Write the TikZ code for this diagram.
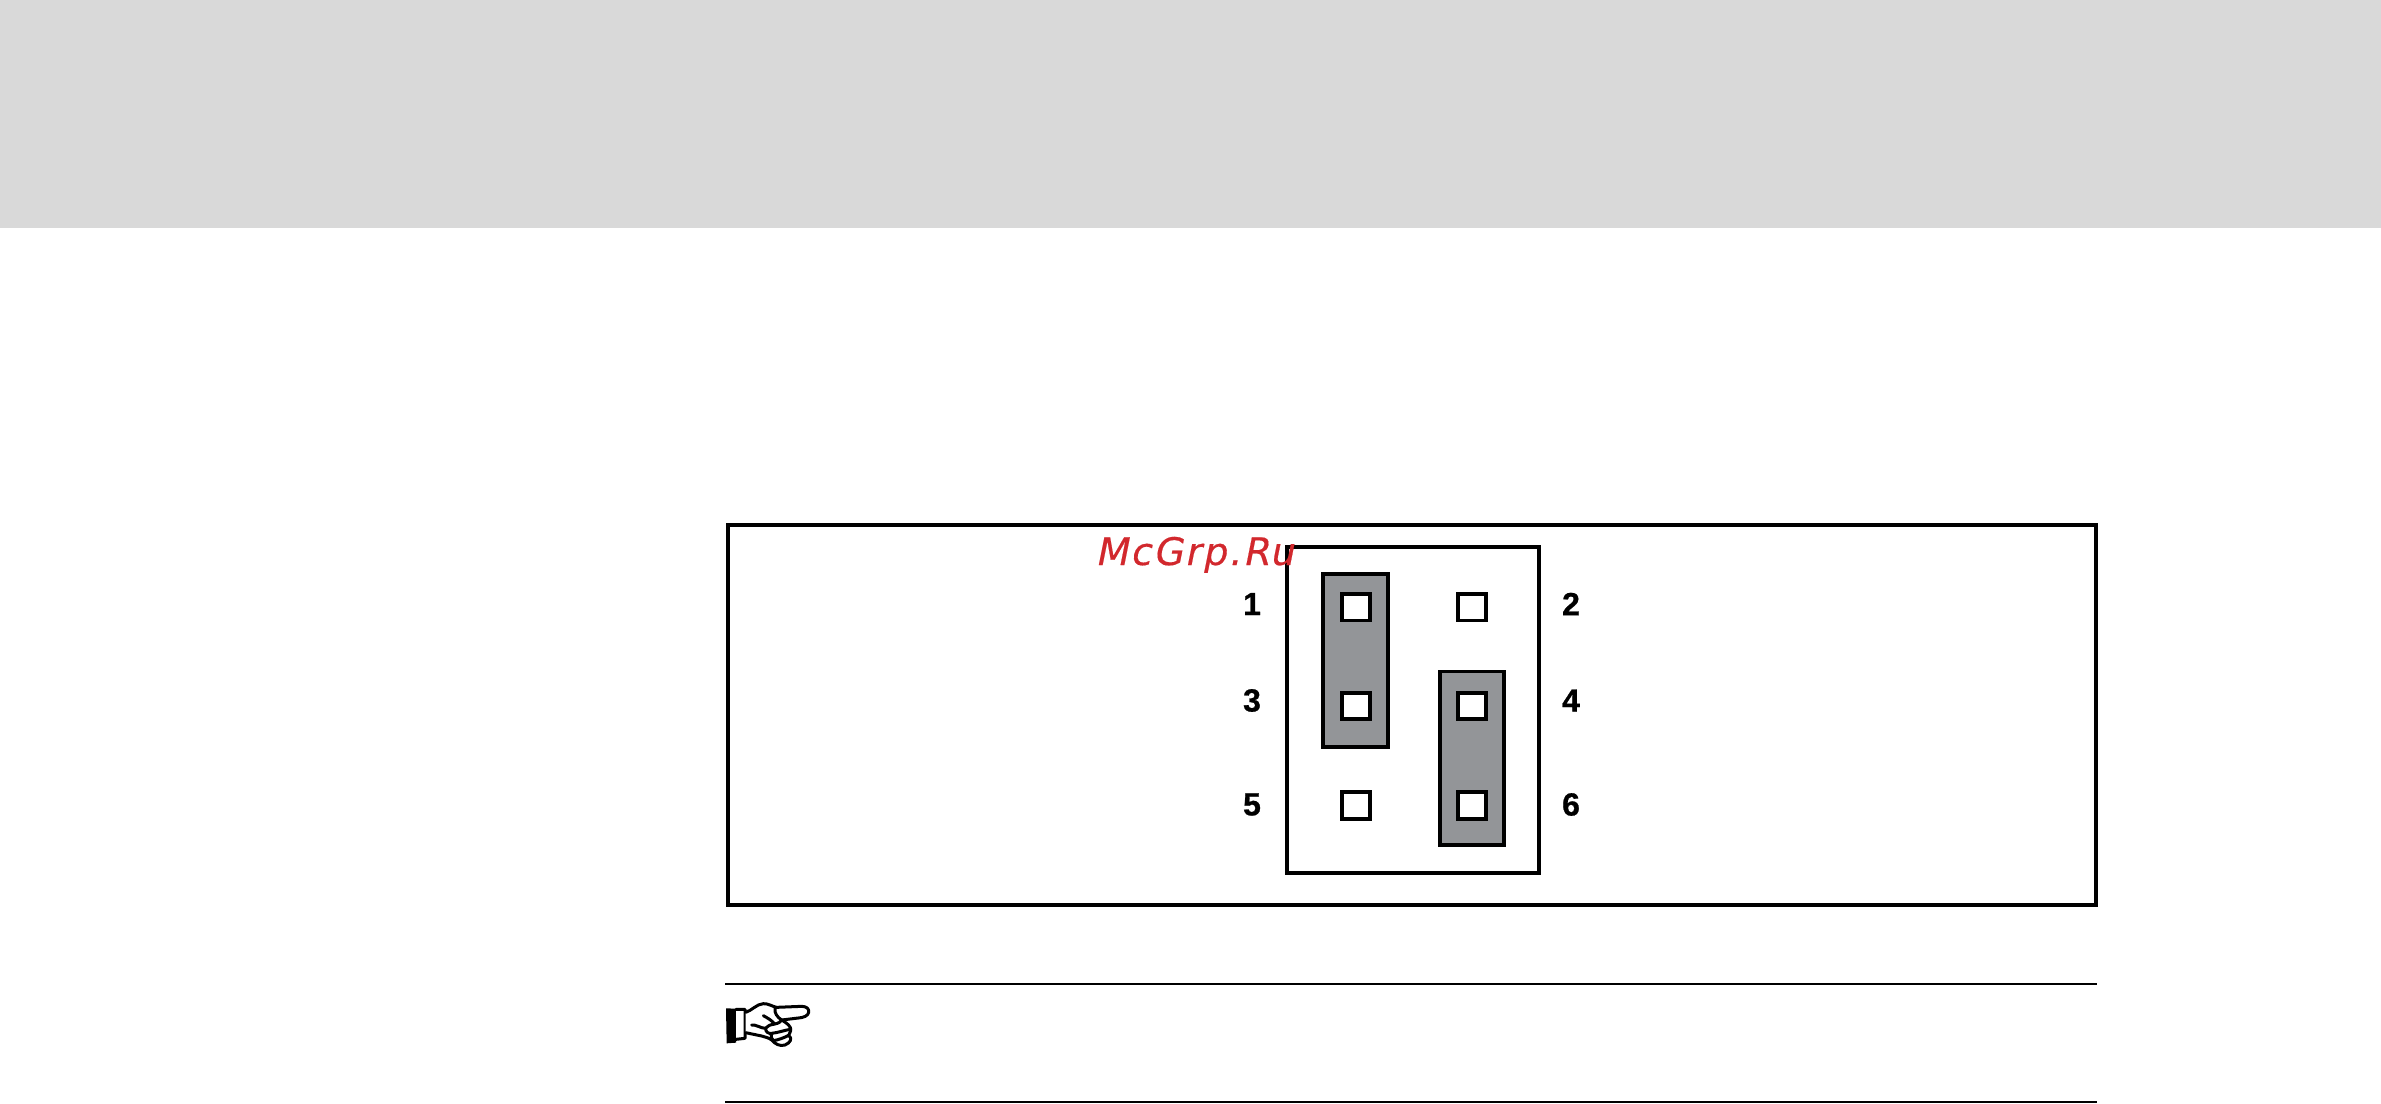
\documentclass[tikz,border=0pt]{standalone}
\usepackage{fontspec}
\setmainfont{Liberation Sans}
\newfontfamily\wmfont{DejaVu Sans}
\definecolor{band}{HTML}{D9D9D9}
\definecolor{jumper}{HTML}{939598}
\definecolor{wmred}{HTML}{D2282D}
\tikzset{
  frameline/.style={draw=black,line width=3.8pt,fill=white},
  innerbox/.style={draw=black,line width=3.6pt,fill=white},
  jumperbox/.style={draw=black,line width=3.9pt,fill=jumper},
  pinbox/.style={draw=black,line width=3.8pt,fill=white,minimum width=28pt,minimum height=26.3pt,inner sep=0pt,outer sep=0pt},
  pinlabel/.style={font=\fontsize{32}{32}\selectfont\bfseries\addfontfeature{FakeBold=0.8},inner sep=0pt,text=black},
  rule/.style={draw=black,line width=2pt},
  handline/.style={draw=black,line width=3pt,line cap=round,line join=round}
}
\begin{document}
\begin{tikzpicture}[x=1pt,y=-1pt]
\useasboundingbox (0,0) rectangle (2381,1103);
\fill[band] (0,0) rectangle (2381,227.5);
\draw[frameline] (728,525) rectangle (2096,905);
\draw[innerbox] (1286.8,547) rectangle (1539,873);
\draw[jumperbox] (1323.4,574) rectangle (1387.7,747);
\draw[jumperbox] (1440,671.5) rectangle (1503.8,845);
\node[pinbox] (p1) at (1355.7,607.3) {};
\node[pinbox] (p2) at (1471.8,607.3) {};
\node[pinbox] (p3) at (1355.7,706) {};
\node[pinbox] (p4) at (1471.8,706) {};
\node[pinbox] (p5) at (1355.7,805.5) {};
\node[pinbox] (p6) at (1471.8,805.5) {};
\node[pinlabel] (l1) at (1252,604) {1};
\node[pinlabel] (l2) at (1571,604) {2};
\node[pinlabel] (l3) at (1252,700.5) {3};
\node[pinlabel] (l4) at (1571,700.5) {4};
\node[pinlabel] (l5) at (1252,804.5) {5};
\node[pinlabel] (l6) at (1571,804.5) {6};
\node[anchor=base west,inner sep=0pt,text=wmred,font=\wmfont\fontsize{38}{38}\selectfont\addfontfeature{FakeSlant=0.2,LetterSpace=5.5,FakeBold=0.4}] (wm) at (1095,565) {McGrp.Ru};
\draw[rule] (725,984) -- (2097,984);
\draw[rule] (725,1101.5) -- (2097,1101.5);
\begin{scope}[shift={(700,960)},x=0.3333pt,y=-0.3333pt]
  \fill[black] (78,145) -- (108,146) -- (108,248) -- (80,250) -- cycle;
  \draw[handline,fill=white] (108,148) -- (135,148) -- (135,235) -- (108,238);
  \draw[handline,fill=white]
    (137,157) .. controls (155,152) and (170,132) .. (190,131)
    .. controls (205,130) and (218,140) .. (230,142)
    -- (305,139) .. controls (320,139) and (328,147) .. (326,157)
    .. controls (324,168) and (310,173) .. (295,174)
    -- (245,180) .. controls (262,190) and (275,200) .. (272,212)
    .. controls (270,218) and (268,222) .. (266,226)
    .. controls (278,235) and (272,248) .. (255,255)
    .. controls (240,260) and (225,252) .. (215,240)
    .. controls (205,232) and (195,232) .. (185,228)
    -- (137,218);
  \draw[handline] (225,144) .. controls (222,158) and (232,172) .. (245,180);
  \draw[handline] (155,195) .. controls (168,193) and (182,205) .. (197,205);
  \draw[handline] (190,167) .. controls (205,175) and (216,182) .. (224,192);
  \draw[handline] (197,205) .. controls (205,196) and (215,192) .. (224,192) .. controls (235,190) and (242,186) .. (245,180);
  \draw[handline] (197,205) .. controls (196,215) and (205,222) .. (215,220) .. controls (235,218) and (255,210) .. (272,208);
  \draw[handline] (215,220) .. controls (212,230) and (214,236) .. (220,242) .. controls (235,240) and (255,232) .. (266,226);
\end{scope}
\end{tikzpicture}
\end{document}
